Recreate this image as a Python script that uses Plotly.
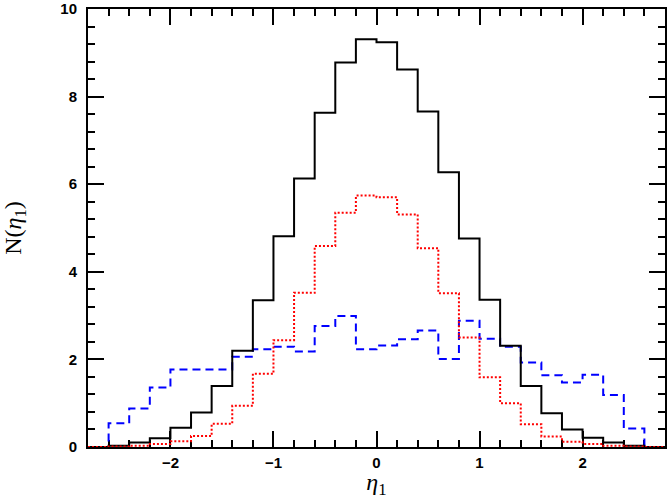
import plotly.graph_objects as go

# bin edges of the eta_1 histograms (width 0.2)
edges = [round(-2.8 + 0.2 * i, 1) for i in range(29)]

n_all = [0.0, 0.03, 0.1, 0.2, 0.44, 0.79, 1.39, 2.2, 3.35, 4.81, 6.13, 7.63, 8.78, 9.31,
         9.24, 8.62, 7.66, 6.27, 4.76, 3.36, 2.31, 1.39, 0.77, 0.40, 0.21, 0.1, 0.03, 0.0]
n_red = [0.0, 0.01, 0.03, 0.07, 0.13, 0.25, 0.53, 0.94, 1.67, 2.44, 3.52, 4.59, 5.35, 5.74,
         5.70, 5.31, 4.54, 3.51, 2.50, 1.59, 1.0, 0.52, 0.24, 0.12, 0.07, 0.03, 0.01, 0.0]
n_blue = [0.0, 0.54, 0.88, 1.36, 1.77, 1.77, 1.77, 2.06, 2.23, 2.29, 2.18, 2.76, 2.99, 2.23,
          2.32, 2.46, 2.66, 2.01, 2.88, 2.47, 2.29, 1.93, 1.64, 1.47, 1.65, 1.19, 0.42, 0.0]

# drawn in this order, red on top so its dots show along the baseline
series = [
    (n_blue, '#0000ff', '8px,5px'),
    (n_all, '#000000', 'solid'),
    (n_red, '#ff0000', '2px,2px'),
]

fig = go.Figure()
for vals, color, dash in series:
    fig.add_trace(go.Scatter(
        x=edges,
        y=vals + [vals[-1]],
        mode='lines',
        line=dict(color=color, width=2, dash=dash, shape='hv'),
        showlegend=False,
        hoverinfo='skip',
        cliponaxis=False
    ))

axis_common = dict(
    showgrid=False, zeroline=False, automargin=False,
    showline=True, linecolor='black', linewidth=2, mirror='allticks',
    ticks='inside', ticklen=16, tickwidth=2, tickcolor='black',
    layer='below traces',
    tickfont=dict(family='Liberation Sans, Arial', size=15, color='black', weight='bold'),
)

fig.update_xaxes(
    range=[-2.8, 2.8], dtick=1, tick0=0,
    minor=dict(dtick=0.2, tick0=0, ticks='inside', ticklen=7, tickwidth=2, tickcolor='black'),
    title=dict(text='<i>η</i><sub>1</sub>', font=dict(family='Liberation Serif, Times New Roman', size=24, color='black'), standoff=2),
    ticklabelstandoff=1,
    **axis_common
)
fig.update_yaxes(
    range=[0, 10], dtick=2, tick0=0,
    minor=dict(dtick=0.4, tick0=0, ticks='inside', ticklen=7, tickwidth=2, tickcolor='black'),
    title=dict(text='N(<i>η</i><sub>1</sub>)', font=dict(family='Liberation Serif, Times New Roman', size=24, color='black'), standoff=32),
    ticklabelstandoff=6,
    **axis_common
)

fig.update_layout(
    width=670, height=499,
    margin=dict(l=88, r=5, t=9, b=52),
    plot_bgcolor='white', paper_bgcolor='white',
)

# drop the default page margin so the figure sits at the window corner
fig.write_html("out.html", config={'displayModeBar': False},
               post_script="document.body.style.margin='0';")
